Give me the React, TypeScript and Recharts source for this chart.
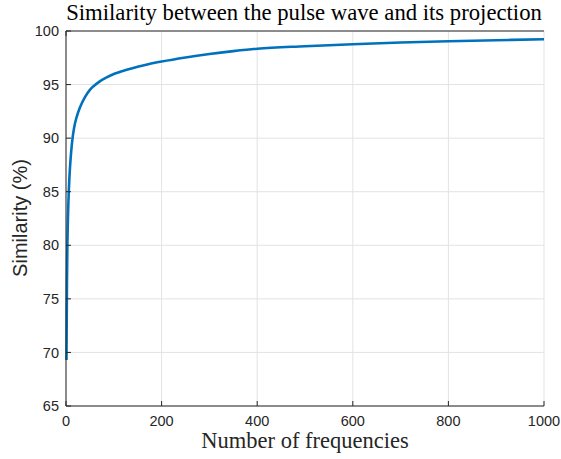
import { LineChart, Line, XAxis, YAxis, CartesianGrid, Label } from 'recharts'

// number of frequencies used in the projection
const frequencies = [1, 2, 3, 4, 5, 6, 7, 8, 10, 12, 14, 16, 18, 20, 25, 30, 40, 50, 57, 70, 85, 100, 127, 150, 170, 200, 250, 300, 350, 400, 500, 600, 700, 800, 900, 1000]
// similarity in percent
const similarity = [69.3, 76.5, 80.3, 82.5, 84.0, 85.2, 86.2, 87.0, 88.3, 89.3, 90.1, 90.7, 91.2, 91.6, 92.35, 92.95, 93.85, 94.5, 94.82, 95.28, 95.67, 95.98, 96.38, 96.67, 96.88, 97.15, 97.53, 97.85, 98.12, 98.35, 98.58, 98.77, 98.92, 99.04, 99.14, 99.23]

const xTicks = [0, 200, 400, 600, 800, 1000]
const yTicks = [65, 70, 75, 80, 85, 90, 95, 100]

const title = 'Similarity between the pulse wave and its projection'
const xLabel = 'Number of frequencies'
const yLabel = 'Similarity (%)'

const chartData = frequencies.map((n, i) => ({ n, value: similarity[i] }))

const axisColor = '#262626'
const sansFont = '"Liberation Sans", Arial, sans-serif'
const serifFont = '"Liberation Serif", "DejaVu Serif", serif'

export default function App() {
  return (
    <div style={{ position: 'absolute', left: 0, top: 0 }}>
      <LineChart
        width={561}
        height={459}
        data={chartData}
        margin={{ top: 30, right: 17, bottom: 23, left: 20 }}
      >
        <CartesianGrid stroke="#e3e3e3" horizontalValues={yTicks} verticalValues={xTicks} />
        <XAxis
          dataKey="n"
          type="number"
          domain={[0, 1000]}
          ticks={xTicks}
          height={30}
          stroke={axisColor}
          tickSize={-5}
          tickMargin={15}
          tick={{ fill: axisColor, fontSize: 14.5, fontFamily: sansFont }}
        >
          <Label
            content={() => (
              <g>
                <text x={305} y={448} textAnchor="middle" fontFamily={serifFont} fontSize={22.5} fill={axisColor}>
                  {xLabel}
                </text>
                <text x={304} y={20} textAnchor="middle" fontFamily={serifFont} fontSize={22.7} fill="#000">
                  {title}
                </text>
              </g>
            )}
          />
        </XAxis>
        <XAxis
          xAxisId="top"
          orientation="top"
          type="number"
          domain={[0, 1000]}
          ticks={xTicks}
          height={1}
          stroke={axisColor}
          tickSize={-5}
          tickFormatter={() => ''}
        />
        <YAxis
          type="number"
          domain={[65, 100]}
          ticks={yTicks}
          width={46}
          stroke={axisColor}
          tickSize={-5}
          tickMargin={12}
          tick={{ fill: axisColor, fontSize: 14.5, fontFamily: sansFont }}
        >
          <Label
            content={() => (
              <text
                x={27}
                y={218}
                transform="rotate(-90 27 218)"
                textAnchor="middle"
                fontFamily={sansFont}
                fontSize={20}
                fill={axisColor}
              >
                {yLabel}
              </text>
            )}
          />
        </YAxis>
        <YAxis
          yAxisId="right"
          orientation="right"
          type="number"
          domain={[65, 100]}
          ticks={yTicks}
          width={0}
          stroke={axisColor}
          tickSize={-5}
          tickFormatter={() => ''}
        />
        <Line
          type="monotone"
          dataKey="value"
          stroke="#0072BD"
          strokeWidth={2.6}
          dot={false}
          isAnimationActive={false}
        />
      </LineChart>
    </div>
  )
}
